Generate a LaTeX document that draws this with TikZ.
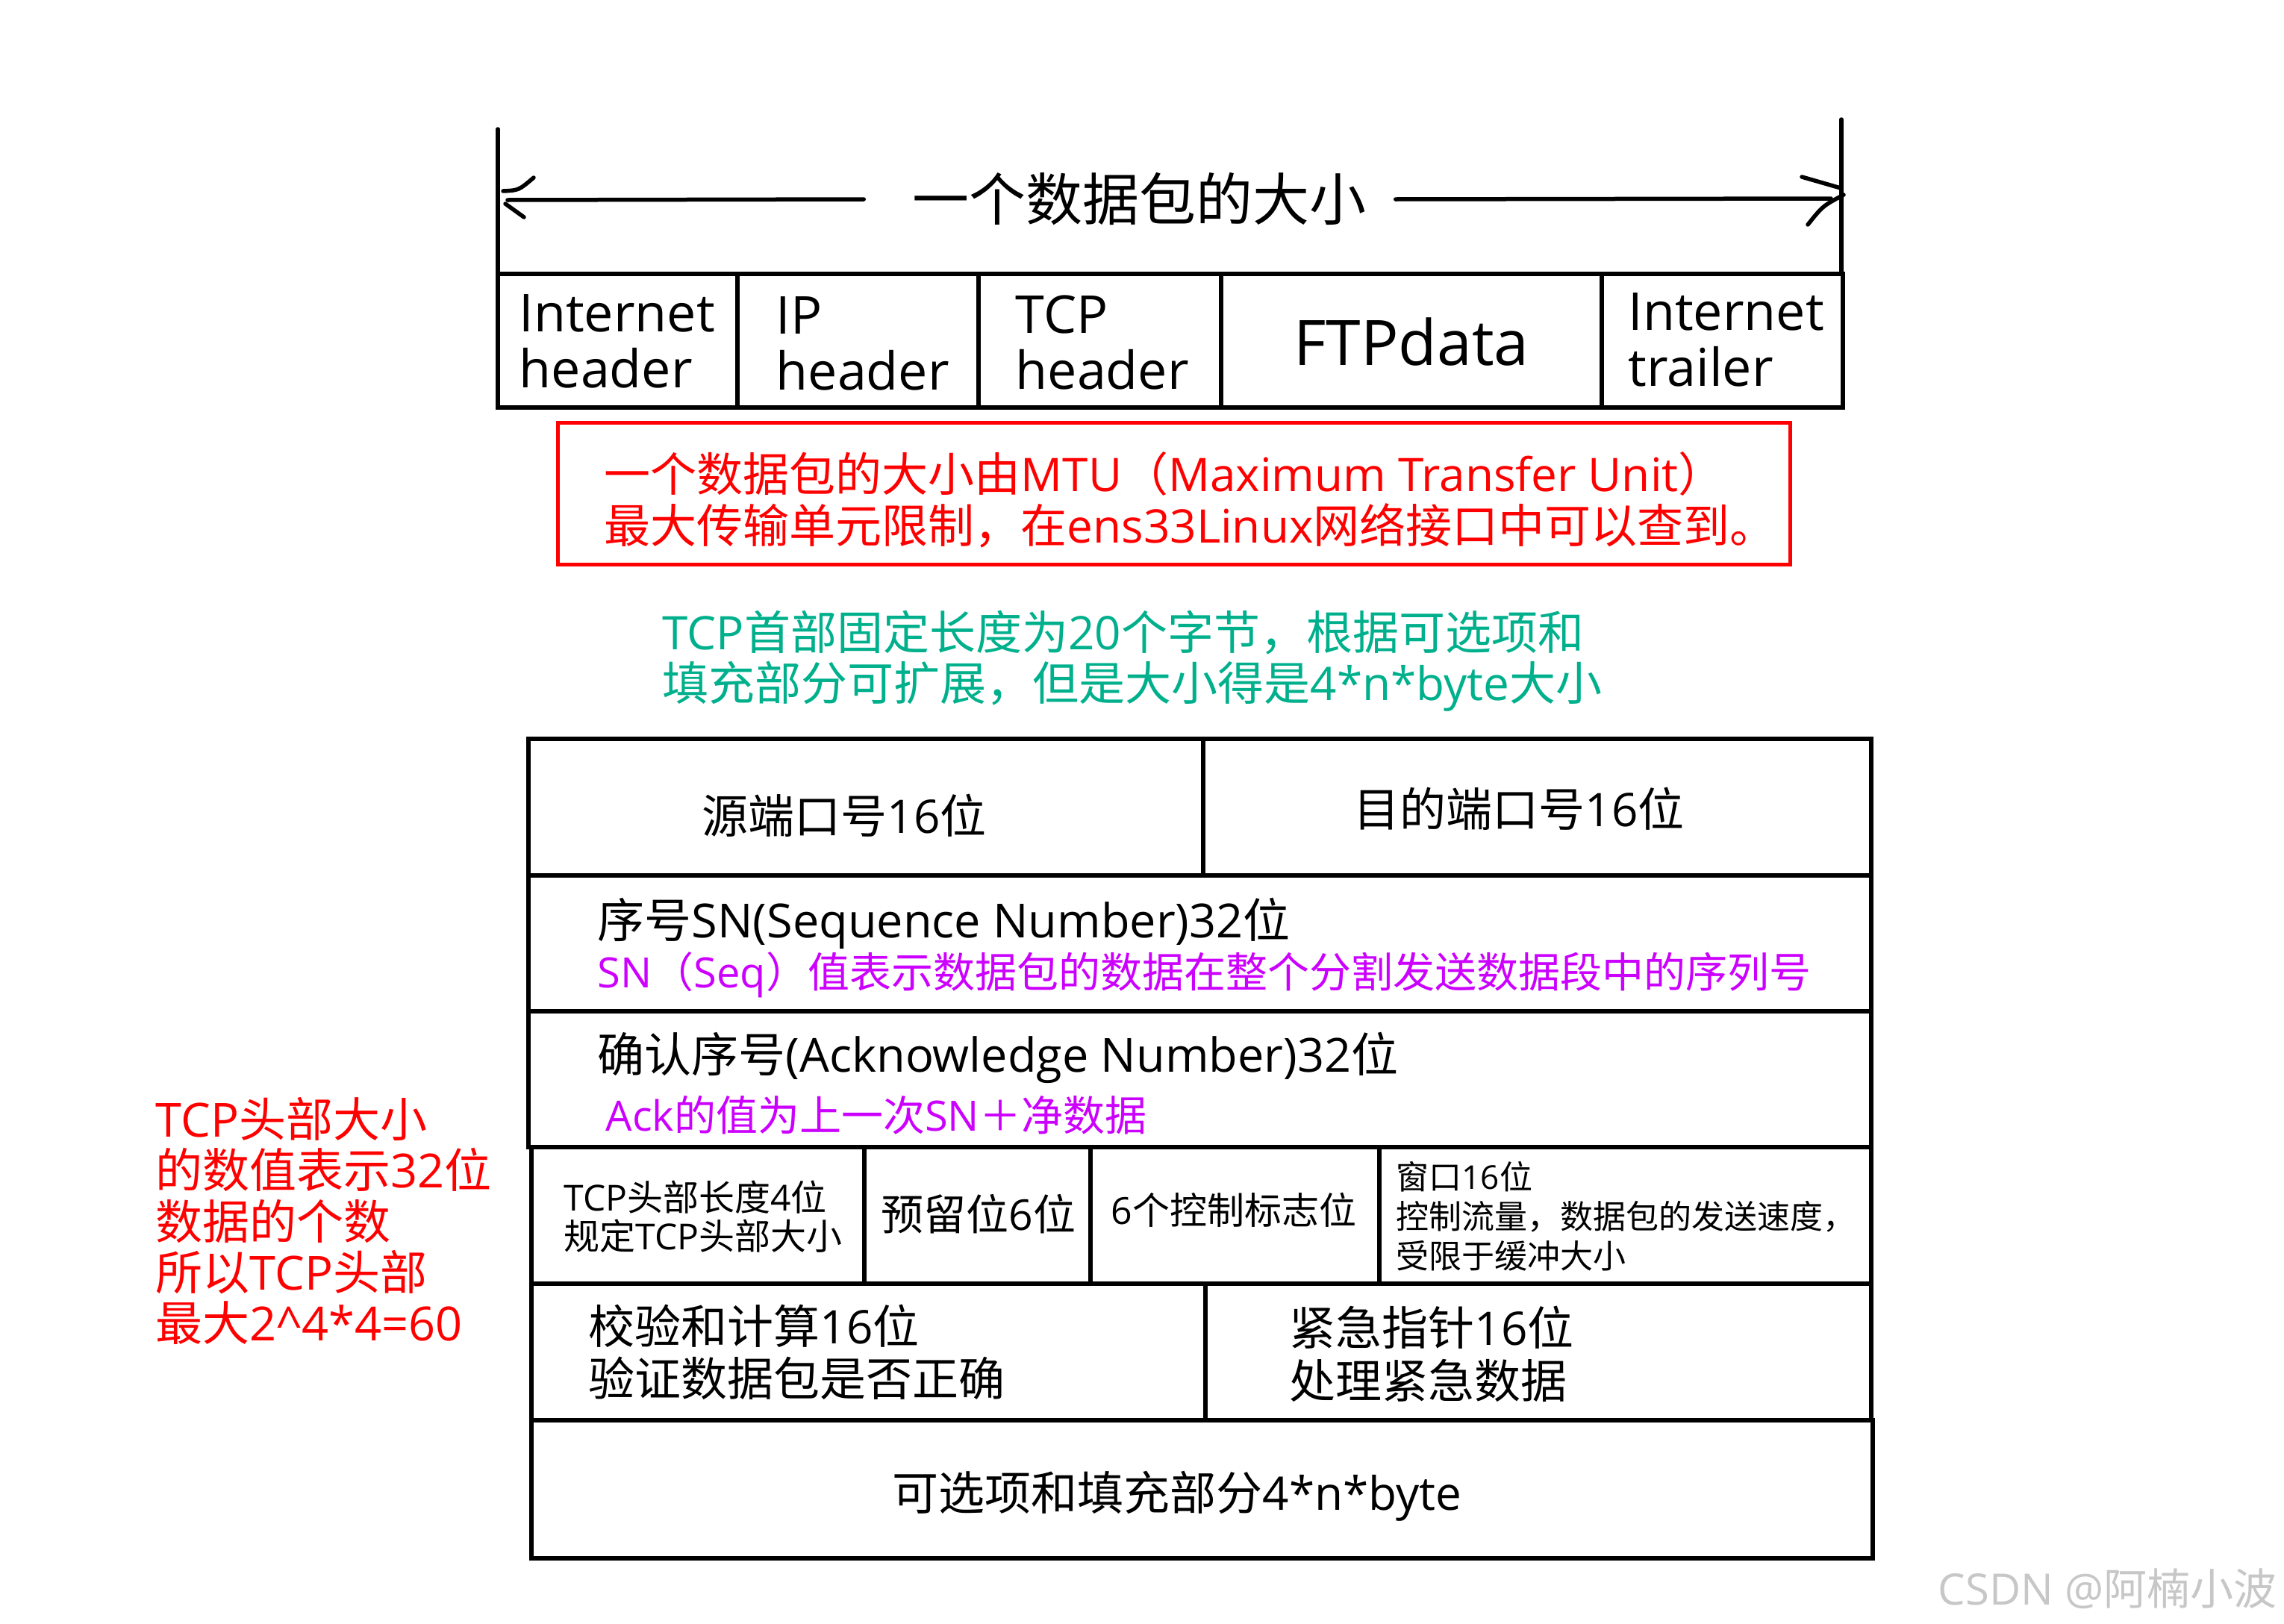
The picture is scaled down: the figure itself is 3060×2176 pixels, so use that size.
\documentclass[tikz,border=0pt]{standalone}
\usepackage{fontspec}
\setmainfont{Open Sans}
\newfontfamily\hanfont{Noto Sans CJK SC}

% 汉字与全角标点自动切到 Noto Sans CJK SC，西文留在 Open Sans
\XeTeXinterchartokenstate=1
\newXeTeXintercharclass\hanclass
\newcount\hanchar
\newcommand\hanrange[2]{\hanchar=#1\relax
  \loop\XeTeXcharclass\hanchar=\hanclass
  \ifnum\hanchar<#2\advance\hanchar by 1\repeat}
\hanrange{"3000}{"303F}
\hanrange{"4E00}{"9FFF}
\hanrange{"FF00}{"FFEF}
\XeTeXinterchartoks 0 \hanclass = {\hanfont}
\XeTeXinterchartoks 4095 \hanclass = {\hanfont}
\XeTeXinterchartoks \hanclass 0 = {\rmfamily}
\XeTeXinterchartoks \hanclass 4095 = {\rmfamily}

\definecolor{notered}{RGB}{255,0,0}
\definecolor{notegreen}{RGB}{0,176,140}
\definecolor{notepink}{RGB}{204,0,255}

\begin{document}
\begin{tikzpicture}[x=1pt, y=-1pt, line width=5.5pt, line cap=round, line join=round,
    cell/.style={draw, line width=5.5pt, line join=miter, line cap=rect},
    lbl/.style={anchor=west, inner sep=0pt, align=left},
    ctr/.style={anchor=center, inner sep=0pt, align=center}]

  %% ==== 数据包长度标尺 ====
  \coordinate (lbar) at (667,268);
  \coordinate (rbar) at (2467,266);
  \draw (667,173) -- (667,367);
  \draw (2467,160) -- (2467,367);
  \node[ctr, font=\fontsize{76}{84}\selectfont] (pktsize) at (1526,267) {一个数据包的大小};
  \draw ([xshift=-62pt]pktsize.west) -- ([xshift=13pt]lbar);
  \draw ([xshift=37pt]pktsize.east) -- ([xshift=-14pt]rbar);
  % 手画的箭头
  \draw (674,256) .. controls (695,255) .. (715,238);
  \draw (677,273) -- (702,291);
  \draw (2414,237) -- (2466,252);
  \draw (2470,261) .. controls (2442,276) .. (2422,301);

  %% ==== 数据包各段 ====
  \draw[cell] (667,367) rectangle (2469,546);
  \foreach \x in {988,1311,1636,2146} \draw[cell] (\x,367) -- (\x,546);
  \node[lbl, font=\fontsize{70}{75}\selectfont] (ethhdr) at (693,457) {Internet\\header};
  \node[lbl, font=\fontsize{70}{75}\selectfont] (iphdr) at (1037,460) {IP\\header};
  \node[lbl, font=\fontsize{70}{75}\selectfont] (tcphdr) at (1358,459) {TCP\\header};
  \node[ctr, font=\fontsize{84}{84}\selectfont] (ftpdata) at (1891,458) {FTPdata};
  \node[lbl, font=\fontsize{70}{75}\selectfont] (ethtrl) at (2179,455) {Internet\\trailer};

  %% ==== 说明文字 ====
  \draw[notered, line width=5pt, line join=miter] (747,566) rectangle (2398,756);
  \node[lbl, text=notered, font=\fontsize{62}{69}\selectfont] (mtunote) at (807,670)
    {一个数据包的大小由MTU（Maximum Transfer Unit）\\最大传输单元限制，在ens33Linux网络接口中可以查到。};
  \node[lbl, text=notegreen, font=\fontsize{62}{68}\selectfont] (hdrnote) at (885,886)
    {TCP首部固定长度为20个字节，根据可选项和\\填充部分可扩展，但是大小得是4*n*byte大小};

  %% ==== TCP 首部 ====
  \draw[cell] (708,990) rectangle (2507,1173);
  \draw[cell] (1612,990) -- (1612,1173);
  \draw[cell] (708,1173) rectangle (2507,1355);
  \draw[cell] (708,1355) rectangle (2507,1537);
  \draw[cell] (712,1537) rectangle (2507,1720);
  \foreach \x in {1158,1461,1848} \draw[cell] (\x,1537) -- (\x,1720);
  \draw[cell] (712,1720) rectangle (2507,1903);
  \draw[cell] (1615,1720) -- (1615,1903);
  \draw[cell] (712,1903) rectangle (2509,2088);

  \node[ctr, font=\fontsize{62}{68}\selectfont] (srcport) at (1131,1093) {源端口号16位};
  \node[ctr, font=\fontsize{62}{68}\selectfont] (dstport) at (2035,1084) {目的端口号16位};
  \node[lbl, font=\fontsize{63}{68}\selectfont] (seqno) at (798,1237) {序号SN(Sequence Number)32位};
  \node[lbl, text=notepink, font=\fontsize{56}{62}\selectfont] (seqnote) at (798,1306)
    {SN（Seq）值表示数据包的数据在整个分割发送数据段中的序列号};
  \node[lbl, font=\fontsize{63}{68}\selectfont] (ackno) at (798,1417) {确认序号(Acknowledge Number)32位};
  \node[lbl, text=notepink, font=\fontsize{56}{62}\selectfont] (acknote) at (809,1494) {Ack的值为上一次SN＋净数据};
  \node[lbl, font=\fontsize{48}{52}\selectfont] (hdrlen) at (753,1630) {TCP头部长度4位\\规定TCP头部大小};
  \node[ctr, font=\fontsize{57}{62}\selectfont] (rsvd) at (1311,1627) {预留位6位};
  \node[ctr, font=\fontsize{50}{56}\selectfont] (flags) at (1653,1621) {6个控制标志位};
  \node[lbl, font=\fontsize{44}{53}\selectfont] (window) at (1868,1630)
    {窗口16位\\控制流量，数据包的发送速度，\\受限于缓冲大小};
  \node[lbl, font=\fontsize{62}{70}\selectfont] (chksum) at (786,1812) {校验和计算16位\\验证数据包是否正确};
  \node[lbl, font=\fontsize{62}{71}\selectfont] (urgptr) at (1725,1814) {紧急指针16位\\处理紧急数据};
  \node[ctr, font=\fontsize{62}{68}\selectfont] (options) at (1577,2005) {可选项和填充部分4*n*byte};

  %% ==== 左侧红字 ====
  \node[lbl, text=notered, font=\fontsize{63}{68.3}\selectfont] (hdrmax) at (206,1636)
    {TCP头部大小\\的数值表示32位\\数据的个数\\所以TCP头部\\最大2\textasciicircum4*4=60};

  %% 水印
  \node[anchor=east, inner sep=0pt, text=black!22, font=\fontsize{58}{58}\selectfont] (mark) at (3053,2129) {CSDN @阿楠小波};

  % 固定画布
  \pgfresetboundingbox
  \path[use as bounding box] (0,0) rectangle (3060,2176);
\end{tikzpicture}
\end{document}
